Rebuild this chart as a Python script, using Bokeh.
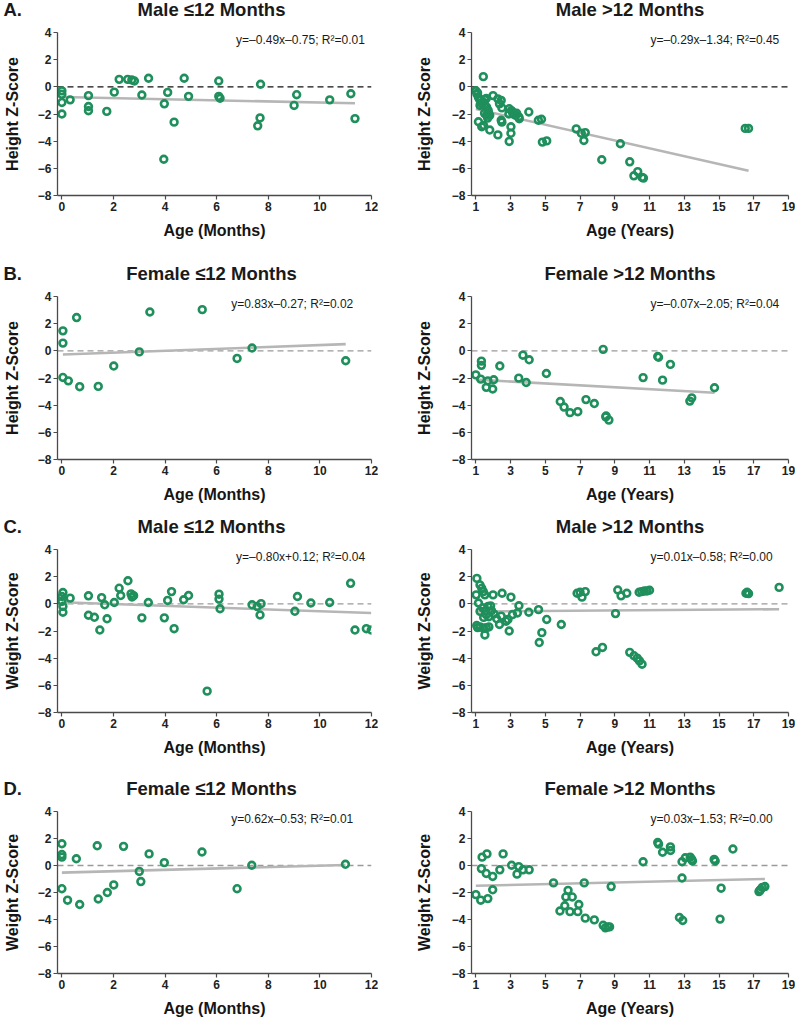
import numpy as np
from bokeh.plotting import figure
from bokeh.layouts import column, row
from bokeh.models import Span, Label, FixedTicker, Range1d
from bokeh.core.properties import value
from bokeh.embed import file_html
from bokeh.resources import INLINE

# ---------------- data ----------------
# A: height, male
a_m_x = [0, 0, 0, 0, 0.32, 1.03, 1.03, 1.03, 1.74, 2.03, 2.22, 2.55, 2.71, 2.81, 3.1, 3.36, 3.97,
         4.1, 4.35, 3.95, 4.74, 4.91, 6.08, 6.08, 6.13, 7.59, 7.68, 7.7, 9.0, 9.1, 10.38, 11.2, 11.36]
a_m_y = [-0.3, -0.55, -1.15, -2.0, -0.96, -0.65, -1.45, -1.76, -1.81, -0.39, 0.55, 0.55, 0.5, 0.43,
         -0.6, 0.63, -1.25, -0.41, -2.6, -5.33, 0.63, -0.7, 0.43, -0.7, -0.84, -2.87, -2.29, 0.19,
         -1.37, -0.58, -0.96, -0.51, -2.34]
a_y_x = [1.0, 1.06, 1.15, 1.28, 1.43, 1.52, 1.24, 1.62, 1.71, 1.8, 1.62, 1.15, 1.34, 1.8, 2.27, 1.99,
         2.27, 2.46, 2.36, 2.46, 2.92, 3.11, 3.3, 3.48, 3.02, 3.02, 2.92, 4.05, 4.6, 4.78, 4.83, 5.08,
         1.43, 1.1, 1.2, 1.35, 1.5, 1.6, 1.72, 1.5, 1.45, 1.68, 2.5, 3.05, 3.15, 3.35, 3.5, 2.5, 2.9,
         6.78, 7.07, 7.3, 7.22, 8.25, 9.32, 9.86, 10.1, 10.32, 10.57, 10.65, 16.51, 16.7]
a_y_y = [-0.29, -0.53, -0.77, -1.0, -1.13, -0.94, -1.37, -1.49, -1.73, -2.1, -2.1, -2.57, -2.94, -3.18,
         -3.54, -0.65, -0.89, -1.0, -1.25, -2.46, -1.61, -1.85, -2.1, -2.22, -2.94, -3.42, -4.02, -1.85,
         -2.46, -2.39, -4.07, -3.98, 0.75, -0.45, -0.9, -1.25, -1.3, -0.85, -1.9, -1.95, -2.85, -2.3,
         -1.55, -1.75, -2.0, -1.95, -2.35, -2.6, -2.0, -3.1, -3.42, -3.37, -3.95, -5.37, -4.19, -5.52,
         -6.55, -6.24, -6.67, -6.72, -3.06, -3.06]

# B: height, female
b_m_x = [0.04, 0.04, 0.04, 0.25, 0.57, 0.69, 1.41, 2.01, 3.0, 3.41, 5.44, 6.79, 7.37, 11.0]
b_m_y = [1.47, 0.57, -1.96, -2.21, 2.45, -2.64, -2.62, -1.12, -0.08, 2.86, 3.03, -0.56, 0.21, -0.73]
b_y_x = [1.0, 1.32, 1.32, 1.28, 1.6, 1.69, 1.97, 2.03, 2.38, 3.47, 3.71, 3.9, 4.07, 5.06, 5.86, 6.08,
         6.42, 6.87, 7.34, 7.82, 8.33, 8.48, 8.66, 8.5, 10.63, 11.47, 11.52, 11.75, 12.2, 13.32, 13.43,
         14.74]
b_y_y = [-1.77, -0.76, -1.07, -2.08, -2.69, -2.21, -2.81, -2.13, -1.12, -2.01, -0.32, -2.33, -0.66,
         -1.67, -3.73, -4.14, -4.55, -4.48, -3.59, -3.88, 0.11, -4.86, -5.1, -4.8, -1.97, -0.42, -0.47,
         -2.16, -1.0, -3.7, -3.46, -2.72]

# C: weight, male
c_m_x = [0.04, 0, 0, 0.04, 0.04, 0.32, 1.03, 1.03, 1.26, 1.47, 1.54, 1.66, 1.75, 2.03, 2.22, 2.28,
         2.56, 2.68, 2.78, 2.72, 3.1, 3.35, 3.97, 4.1, 4.25, 4.35, 4.72, 4.91, 5.63, 6.09, 6.09, 6.13,
         7.37, 7.57, 7.72, 7.68, 9.03, 9.13, 9.65, 10.38, 11.19, 11.36, 11.8, 11.99]
c_m_y = [0.83, 0.54, 0.17, -0.19, -0.62, 0.42, 0.59, -0.84, -0.99, -1.93, 0.46, -0.07, -1.1, 0.1, 1.15,
         0.61, 1.7, 0.73, 0.6, 0.5, -1.03, 0.1, -1.03, 0.25, 0.9, -1.83, 0.3, 0.61, -6.43, 0.71, 0.35,
         -0.36, -0.07, -0.2, 0.01, -0.82, -0.55, 0.54, 0.06, 0.1, 1.51, -1.93, -1.83, -1.93]
c_y_x = [1.06, 1.24, 1.34, 1.43, 1.02, 1.52, 1.99, 2.51, 3.02, 1.15, 1.24, 1.4, 1.55, 1.7, 1.85, 1.6,
         1.75, 1.45, 1.9, 2.05, 2.2, 2.46, 2.74, 2.85, 3.11, 3.39, 3.48, 4.05, 4.61, 5.08, 5.92, 4.8,
         4.65, 2.92, 2.36, 1.1, 1.25, 1.45, 1.6, 1.75, 1.52, 1.05, 6.83, 7.0, 7.11, 7.3, 9.04, 9.17,
         9.36, 9.69, 7.92, 8.29, 9.86, 10.1, 10.29, 10.42, 10.57, 10.4, 10.55, 10.7, 10.85, 11.0,
         16.55, 16.62, 16.7, 18.46]
c_y_y = [1.87, 1.39, 1.15, 0.9, 0.66, 0.66, 0.66, 0.78, 0.49, 0.06, -0.55, -0.3, -0.5, -0.2, -0.15,
         -0.8, -0.95, -1.0, -0.5, -0.75, -1.1, -0.91, -1.28, -1.15, -0.79, -0.67, -0.14, -0.62, -0.43,
         -1.15, -1.52, -2.12, -2.85, -2.0, -1.52, -1.75, -1.7, -1.8, -1.75, -1.7, -2.29, -1.6, 0.78,
         0.85, 0.49, 0.9, -0.72, 1.02, 0.59, 0.78, -3.53, -3.21, -3.57, -3.82, -4.0, -4.2, -4.45, 0.85,
         0.9, 0.95, 0.95, 1.0, 0.78, 0.85, 0.75, 1.21]

# D: weight, female
d_m_x = [0, 0, 0, 0, 0.22, 0.56, 0.69, 1.37, 1.41, 1.76, 2.01, 2.39, 3.0, 3.06, 3.38, 3.97, 5.43,
         6.79, 7.36, 10.99]
d_m_y = [1.61, 0.81, 0.62, -1.72, -2.57, 0.5, -2.89, 1.46, -2.48, -2.0, -1.44, 1.42, -0.44, -1.19,
         0.86, 0.21, 1.0, -1.72, 0.02, 0.09]
d_y_x = [1.0, 1.28, 1.36, 1.32, 1.64, 1.6, 1.69, 1.97, 1.97, 2.38, 2.57, 3.06, 3.37, 3.47, 3.71, 4.07,
         5.47, 5.84, 6.12, 6.18, 6.31, 6.42, 6.55, 6.87, 6.93, 7.24, 7.3, 7.82, 8.33, 8.46, 8.61, 8.7,
         8.79, 10.63, 11.47, 11.52, 11.75, 12.2, 12.21, 12.87, 13.06, 13.34, 13.43, 13.47, 12.87,
         12.72, 12.91, 14.72, 14.78, 15.12, 15.06, 15.8, 17.3, 17.39, 17.49, 17.64, 17.34]
d_y_y = [-2.16, -2.57, 0.62, -0.23, 0.86, -0.59, -2.45, -0.81, -1.8, -0.32, 0.86, 0.02, -0.64, -0.08,
         -0.32, -0.32, -1.29, -3.37, -2.98, -2.33, -1.84, -3.42, -2.33, -3.42, -2.89, -1.29, -3.9,
         -4.03, -4.43, -4.62, -4.55, -4.55, -1.56, 0.28, 1.7, 1.58, 0.98, 1.38, 1.11, 0.28, 0.57, 0.62,
         0.45, 0.33, -0.93, -3.85, -4.07, 0.45, 0.33, -1.68, -3.97, 1.22, -1.93, -1.79, -1.62, -1.56,
         -1.87]

# regression coefficients (x in years)
slopes = [-0.49, -0.29, 0.83, -0.07, -0.80, 0.01, 0.62, 0.03]
intercepts = [-0.75, -1.34, -0.27, -2.05, 0.12, -0.58, -0.53, -1.53]
equations = ["y=–0.49x–0.75; R²=0.01", "y=–0.29x–1.34; R²=0.45",
             "y=0.83x–0.27; R²=0.02", "y=–0.07x–2.05; R²=0.04",
             "y=–0.80x+0.12; R²=0.04", "y=0.01x–0.58; R²=0.00",
             "y=0.62x–0.53; R²=0.01", "y=0.03x–1.53; R²=0.00"]
titles = ["Male ≤12 Months", "Male >12 Months", "Female ≤12 Months", "Female >12 Months",
          "Male ≤12 Months", "Male >12 Months", "Female ≤12 Months", "Female >12 Months"]
letters = ["A.", "B.", "C.", "D."]
ylabels = ["Height Z-Score", "Height Z-Score", "Weight Z-Score", "Weight Z-Score"]
month_ticks = [0, 2, 4, 6, 8, 10, 12]
year_ticks = [1, 3, 5, 7, 9, 11, 13, 15, 17, 19]
z_ticks = [-8, -6, -4, -2, 0, 2, 4]

GREEN = "#1f8f5c"
FONT = "Liberation Sans"
TXT = "#1a1a1a"

series = [(a_m_x, a_m_y), (a_y_x, a_y_y), (b_m_x, b_m_y), (b_y_x, b_y_y),
          (c_m_x, c_m_y), (c_y_x, c_y_y), (d_m_x, d_m_y), (d_y_x, d_y_y)]

# ---------------- geometry ----------------
HEADER_H = 24
TITLE_Y = 9
FRAME_H = 163
PLOT_BT = 8
row_bb = [69, 58, 67, 45]
L_W, L_MBL, L_MBR = 400, 51, 29
R_W, R_MBL, R_MBR = 395, 71, 7
eq_px_left = [182, 177, 182, 177]   # px from frame left
eq_px_right = 179


def style_axis(ax):
    ax.axis_line_color = "#4a4a4a"
    ax.axis_line_width = 1.3
    ax.major_tick_line_color = "#4a4a4a"
    ax.major_tick_line_width = 1.2
    ax.major_tick_out = 4
    ax.major_tick_in = 0
    ax.minor_tick_line_color = None
    ax.major_label_text_font = FONT
    ax.major_label_text_font_style = "bold"
    ax.major_label_text_font_size = "12px"
    ax.major_label_text_color = "#222222"
    ax.major_label_standoff = 2
    ax.axis_label_text_font = FONT
    ax.axis_label_text_font_style = "bold"
    ax.axis_label_text_font_size = "16px"
    ax.axis_label_text_color = "#151515"


def make_header(r):
    w = L_W + R_W
    p = figure(width=w, height=HEADER_H, x_range=Range1d(0, w), y_range=Range1d(HEADER_H, 0),
               x_axis_type=None, y_axis_type=None, output_backend="svg", toolbar_location=None,
               min_border=0, min_border_left=0, min_border_right=0, min_border_top=0,
               min_border_bottom=0)
    p.outline_line_color = None
    p.grid.visible = False
    lc = L_MBL + (L_W - L_MBL - L_MBR) / 2
    rc = L_W + R_MBL + (R_W - R_MBL - R_MBR) / 2
    p.text(x=[lc, rc], y=[TITLE_Y, TITLE_Y], text=[titles[2 * r], titles[2 * r + 1]],
           text_font=value(FONT), text_font_size=value("18.5px"), text_font_style="bold",
           text_color=TXT, text_align="center", text_baseline="middle")
    p.text(x=[3], y=[TITLE_Y], text=[letters[r]],
           text_font=value(FONT), text_font_size=value("18.5px"), text_font_style="bold",
           text_color=TXT, text_align="left", text_baseline="middle")
    return p


def make_panel(i):
    r = i // 2
    right = i % 2 == 1
    bb = row_bb[r]
    xs, ys = series[i]
    if right:
        width, mbl, mbr = R_W, R_MBL, R_MBR
        x0, x1 = 0.75, 19
        ticks = year_ticks
        xlabel = "Age (Years)"
        to_years = 1.0
        eq_px = eq_px_right
        ylab_standoff = 16
    else:
        width, mbl, mbr = L_W, L_MBL, L_MBR
        x0, x1 = -0.17, 12
        ticks = month_ticks
        xlabel = "Age (Months)"
        to_years = 1.0 / 12.0
        eq_px = eq_px_left[r]
        ylab_standoff = 14
    frame_w = width - mbl - mbr
    px_x = frame_w / (x1 - x0)
    px_y = FRAME_H / 12.0

    p = figure(width=width, height=PLOT_BT + FRAME_H + bb, x_range=Range1d(x0, x1),
               y_range=Range1d(-8, 4), output_backend="svg", toolbar_location=None,
               min_border_left=mbl, min_border_right=mbr, min_border_top=PLOT_BT,
               min_border_bottom=bb)
    p.outline_line_color = None
    p.grid.visible = False
    p.background_fill_color = "white"
    p.border_fill_color = "white"

    p.xaxis.ticker = FixedTicker(ticks=ticks)
    p.yaxis.ticker = FixedTicker(ticks=z_ticks)
    p.xaxis.axis_label = xlabel
    p.yaxis.axis_label = ylabels[r]
    style_axis(p.xaxis[0])
    style_axis(p.yaxis[0])
    p.xaxis.axis_label_standoff = 8
    p.yaxis.axis_label_standoff = ylab_standoff

    zero_col = "#111111" if r == 0 else "#9a9a9a"
    p.add_layout(Span(location=0, dimension="width", line_color=zero_col,
                      line_dash="6 4", line_width=1.3, level="underlay"))

    xa = np.array(xs, dtype=float)
    lx = np.array([xa.min(), xa.max()])
    ly = slopes[i] * lx * to_years + intercepts[i]
    p.line(lx, ly, line_color="#b6b6b6", line_width=2.6)

    p.scatter(xs, ys, marker="circle", size=6.8, fill_color=None,
              line_color=GREEN, line_width=2.6)

    p.add_layout(Label(x=x0 + eq_px / px_x, y=4 - 7.5 / px_y, text=equations[i], text_font=FONT,
                       text_font_size="12px", text_color=TXT,
                       text_align="left", text_baseline="middle"))
    return p


rows = []
for k in range(4):
    rows.append(make_header(k))
    rows.append(row(make_panel(2 * k), make_panel(2 * k + 1)))
layout = column(*rows)

open("out.html", "w").write(file_html(layout, INLINE))
